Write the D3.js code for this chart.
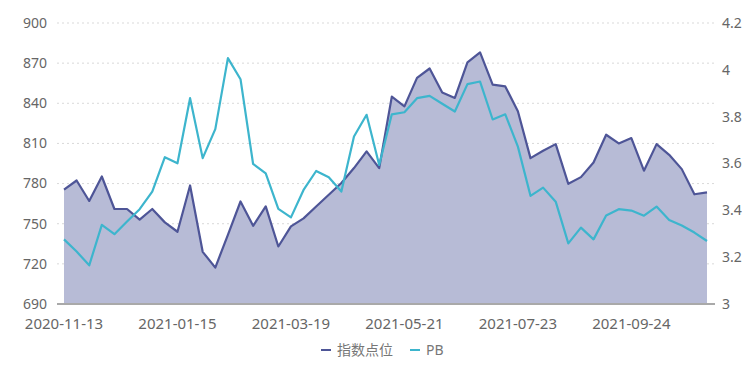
<!DOCTYPE html>
<html>
<head>
<meta charset="utf-8">
<script src="https://cdn.jsdelivr.net/npm/d3@7"></script>
<style>
  body { margin: 0; background: #fff; }
  svg { display: block; font-family: "Noto Sans", "Noto Sans CJK SC", sans-serif; }
</style>
</head>
<body>
<svg id="chart" width="756" height="369"></svg>
<script>
const dates = [
  "2020-11-13","2020-11-20","2020-11-27","2020-12-04","2020-12-11","2020-12-18","2020-12-25",
  "2021-01-01","2021-01-08","2021-01-15","2021-01-22","2021-01-29","2021-02-05","2021-02-12",
  "2021-02-19","2021-02-26","2021-03-05","2021-03-12","2021-03-19","2021-03-26","2021-04-02",
  "2021-04-09","2021-04-16","2021-04-23","2021-04-30","2021-05-07","2021-05-14","2021-05-21",
  "2021-05-28","2021-06-04","2021-06-11","2021-06-18","2021-06-25","2021-07-02","2021-07-09",
  "2021-07-16","2021-07-23","2021-07-30","2021-08-06","2021-08-13","2021-08-20","2021-08-27",
  "2021-09-03","2021-09-10","2021-09-17","2021-09-24","2021-10-01","2021-10-08","2021-10-15",
  "2021-10-22","2021-10-29","2021-11-05"
];

// 指数点位 (left axis)
const indexVals = [
  775.4, 782.3, 767, 785.3, 761, 761, 753, 761, 751, 744,
  778.6, 729, 717.2, 741.7, 766.6, 748.4, 762.9, 733, 748, 754,
  762.9, 771.6, 780.4, 791.6, 804, 791.6, 845, 837.7, 859, 866,
  848, 844, 870.6, 878, 854, 852.6, 834, 799, 804.5, 809.5,
  779.8, 784.8, 795.8, 816.5, 810, 814, 789.6, 809.5, 801.5, 790.8,
  772, 773.4
];

// PB (right axis)
const pbVals = [
  3.276, 3.224, 3.165, 3.338, 3.298, 3.352, 3.405, 3.48, 3.627, 3.601,
  3.879, 3.623, 3.747, 4.05, 3.96, 3.598, 3.558, 3.406, 3.37, 3.487,
  3.568, 3.541, 3.48, 3.715, 3.808, 3.594, 3.81, 3.819, 3.879, 3.889,
  3.855, 3.822, 3.939, 3.95, 3.788, 3.81, 3.672, 3.462, 3.497, 3.437,
  3.259, 3.326, 3.276, 3.378, 3.405, 3.399, 3.377, 3.416, 3.359, 3.335,
  3.305, 3.269
];

const leftTicks = [690, 720, 750, 780, 810, 840, 870, 900];
const rightTicks = [3, 3.2, 3.4, 3.6, 3.8, 4, 4.2];
const labelEvery = 9;

const seriesNames = ["指数点位", "PB"];
const colors = { index: "#4e5597", area: "#b7bbd6", pb: "#3db5cd" };

const svg = d3.select("#chart");
const gridLeft = 57, gridRight = 715;

const x = d3.scalePoint().domain(dates).range([64, 707]);
const yL = d3.scaleLinear().domain([690, 900]).range([304, 23]);
const yR = d3.scaleLinear().domain([3, 4.2]).range([304, 23]);

// dotted grid lines
svg.append("g")
  .selectAll("line")
  .data(leftTicks.slice(1))
  .join("line")
    .attr("x1", gridLeft).attr("x2", gridRight)
    .attr("y1", d => yL(d)).attr("y2", d => yL(d))
    .attr("stroke", "#d9d9d9")
    .attr("stroke-width", 1)
    .attr("stroke-dasharray", "2,3");

// area for index
const area = d3.area()
  .x((d, i) => x(dates[i]))
  .y0(yL(690))
  .y1(d => yL(d));

svg.append("path")
  .datum(indexVals)
  .attr("d", area)
  .attr("fill", colors.area);

const lineL = d3.line().x((d, i) => x(dates[i])).y(d => yL(d));
const lineR = d3.line().x((d, i) => x(dates[i])).y(d => yR(d));

svg.append("path")
  .datum(indexVals)
  .attr("d", lineL)
  .attr("fill", "none")
  .attr("stroke", colors.index)
  .attr("stroke-width", 2.2)
  .attr("stroke-linejoin", "round");

svg.append("path")
  .datum(pbVals)
  .attr("d", lineR)
  .attr("fill", "none")
  .attr("stroke", colors.pb)
  .attr("stroke-width", 2.2)
  .attr("stroke-linejoin", "round");

// bottom axis line
svg.append("line")
  .attr("x1", gridLeft).attr("x2", gridRight)
  .attr("y1", yL(690)).attr("y2", yL(690))
  .attr("stroke", "#a9a9a9")
  .attr("stroke-width", 2);

// left axis labels
svg.append("g")
  .selectAll("text")
  .data(leftTicks)
  .join("text")
    .attr("x", 47)
    .attr("y", d => yL(d))
    .attr("dy", "0.35em")
    .attr("text-anchor", "end")
    .attr("font-size", 14)
    .attr("fill", "#666")
    .text(d => d);

// right axis labels
svg.append("g")
  .selectAll("text")
  .data(rightTicks)
  .join("text")
    .attr("x", 722)
    .attr("y", d => yR(d))
    .attr("dy", "0.35em")
    .attr("text-anchor", "start")
    .attr("font-size", 14)
    .attr("fill", "#666")
    .text(d => d);

// x axis labels
svg.append("g")
  .selectAll("text")
  .data(dates.filter((d, i) => i % labelEvery === 0))
  .join("text")
    .attr("x", d => x(d))
    .attr("y", 323.5)
    .attr("dy", "0.35em")
    .attr("text-anchor", "middle")
    .attr("font-size", 15)
    .attr("fill", "#666")
    .text(d => d);

// legend
const legend = svg.append("g").attr("font-size", 14).attr("fill", "#777");
const legendItems = [
  { name: seriesNames[0], color: colors.index, x: 321 },
  { name: seriesNames[1], color: colors.pb, x: 410 }
];
legendItems.forEach(it => {
  legend.append("line")
    .attr("x1", it.x).attr("x2", it.x + 10)
    .attr("y1", 350).attr("y2", 350)
    .attr("stroke", it.color).attr("stroke-width", 2);
  legend.append("text")
    .attr("x", it.x + 16).attr("y", 350).attr("dy", "0.35em")
    .text(it.name);
});
</script>
</body>
</html>
